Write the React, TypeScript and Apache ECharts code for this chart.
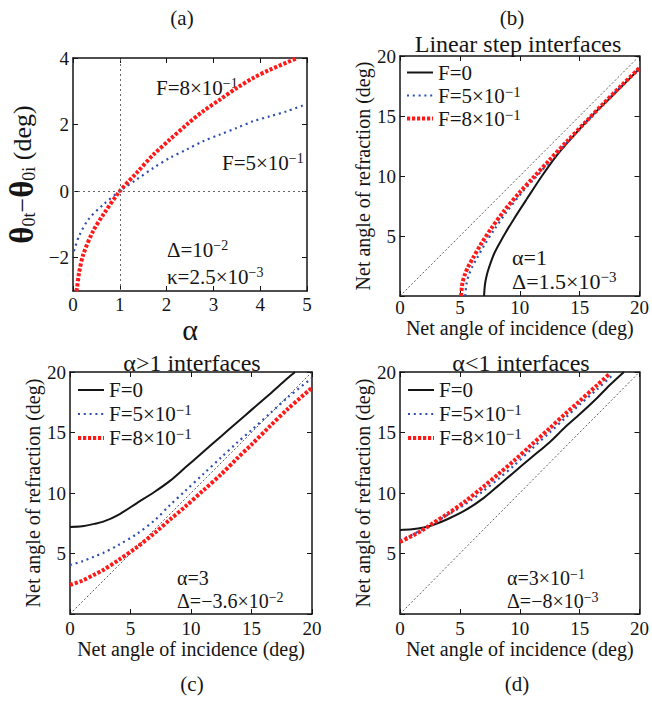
import { useEffect, useRef } from 'react';
import * as echarts from 'echarts';

const FONT = "'Liberation Serif', 'Times New Roman', serif";
const INK = '#151515';
const BLUE = '#2f4fb0';
const RED = '#ff1a1a';

const NAME_F0 = 'F=0';
const NAME_F5 = 'F=5×10^−1';
const NAME_F8 = 'F=8×10^−1';

// (a) shift of the refracted beam versus alpha
const alphaF5 = [0.02, 0.13, 0.33, 0.65, 1.0, 1.36, 1.72, 2.07, 2.43, 2.78, 3.14, 3.5, 3.85, 4.21, 4.57, 4.96];
const shiftF5 = [-1.8, -1.35, -0.85, -0.4, 0, 0.35, 0.7, 1.0, 1.25, 1.5, 1.7, 1.9, 2.1, 2.25, 2.4, 2.6];
const alphaF8 = [0.06, 0.08, 0.13, 0.22, 0.43, 0.65, 1.0, 1.36, 1.72, 2.07, 2.43, 2.78, 3.14, 3.5, 3.85, 4.21, 4.8];
const shiftF8 = [-3.0, -2.95, -2.45, -1.9, -1.2, -0.7, 0, 0.55, 1.1, 1.55, 2.0, 2.4, 2.75, 3.1, 3.4, 3.65, 4.0];

// (b) linear step interfaces
const incB0 = [7.02, 7.1, 7.25, 7.44, 7.85, 8.4, 8.8, 9.5, 10.6, 11.85, 13, 14.5, 16, 17.5, 19, 20];
const refB0 = [0, 1.0, 1.75, 2.4, 3.5, 4.55, 5.25, 6.4, 8.1, 10.0, 11.6, 13.35, 15.0, 16.45, 17.95, 18.95];
const incB5 = [5.45, 5.55, 5.75, 6.05, 6.4, 7.05, 7.85, 8.9, 10.2, 11.3, 12.6, 14, 15.5, 17, 18.5, 20];
const refB5 = [0, 1.0, 1.75, 2.45, 3.1, 4.25, 5.5, 7.0, 8.65, 9.85, 11.3, 12.85, 14.45, 16.0, 17.5, 18.95];
const incB8 = [5.1, 5.2, 5.4, 5.7, 6.06, 6.75, 7.6, 8.7, 10.05, 11.16, 12.5, 14, 15.5, 17, 18.5, 20];
const refB8 = [0, 1.0, 1.75, 2.45, 3.1, 4.3, 5.6, 7.1, 8.7, 9.9, 11.35, 12.95, 14.5, 16.05, 17.55, 19.0];

// (c) alpha > 1 interfaces
const incC = [0, 1, 2, 2.75, 4, 5.5, 7, 8.26, 9.5, 11, 12.5, 13.8, 15, 16.5, 18, 20];
const refC0 = [7.2, 7.25, 7.45, 7.63, 8.2, 9.15, 10.1, 11.0, 12.08, 13.39, 14.7, 15.83, 16.87, 18.17, 19.5, null];
const refC5 = [4.05, 4.35, 4.75, 5.05, 5.7, 6.6, 7.75, 9.0, 10.15, 11.55, 12.95, 14.15, 15.2, 16.55, 17.9, 19.5];
const refC8 = [2.4, 2.75, 3.25, 3.64, 4.45, 5.5, 6.7, 7.8, 8.85, 10.2, 11.55, 12.85, 14.0, 15.5, 16.95, 18.7];
const incC0End = 18.6;

// (d) alpha < 1 interfaces
const incD = [0, 1, 2, 2.75, 4, 5.5, 7, 8.26, 9.5, 11, 12.5, 13.8, 15, 16.5];
const refD0 = [6.95, 7.0, 7.15, 7.35, 7.85, 8.6, 9.6, 10.65, 11.7, 12.95, 14.2, 15.45, 16.5, 17.9];
const refD5 = [6.1, 6.55, 7.05, 7.5, 8.2, 9.1, 10.2, 11.2, 12.25, 13.65, 15.0, 16.2, 17.3, 18.6];
const refD8 = [5.95, 6.45, 7.0, 7.5, 8.3, 9.35, 10.55, 11.6, 12.65, 14.0, 15.35, 16.55, 17.6, 18.95];
const tailD0 = [[17.5, 18.9], [18.7, 20.0]];
const tailD5 = [[17.7, 19.7]];
const tailD8 = [[17.5, 19.85]];

const diagonal = [[0, 0], [20, 20]];
const refTicksA = [-2, 0, 2, 4];

const pairs = (xs: number[], ys: (number | null)[]) =>
  xs.map((x, i) => [x, ys[i]]).filter((p) => p[1] !== null);

const sup = (size: number, lh = 10) => ({ fontSize: size, verticalAlign: 'top', lineHeight: lh, fontFamily: FONT, color: INK });
const SUB = { fontSize: 18, verticalAlign: 'bottom', lineHeight: 12, fontFamily: FONT, color: INK };

const AXIS = { color: INK, width: 1.5 };
const TICK = { color: INK, width: 1 };
const tickLabel = { fontSize: 19, fontFamily: FONT, color: INK };
const axisName = { fontSize: 20, fontFamily: FONT, color: INK };

const supText = (s: string) => s.replace(/\^(.*)$/, '{sup|$1}');
const minus = (v: number) => (v < 0 ? '−' + String(-v) : String(v));

function xPair(gridIndex: number, min: number, max: number, interval: number, name: string, nameGap: number, nameTextStyle: any, margin: number) {
  return [
    {
      type: 'value', gridIndex, position: 'bottom', min, max, interval,
      name, nameLocation: 'middle', nameGap, nameTextStyle,
      axisLine: { show: true, onZero: false, lineStyle: AXIS },
      axisTick: { show: true, inside: true, length: 5, lineStyle: TICK },
      axisLabel: { ...tickLabel, margin, formatter: minus },
      splitLine: { show: false },
    },
    {
      type: 'value', gridIndex, position: 'top', min, max, interval,
      axisLine: { show: true, onZero: false, lineStyle: AXIS },
      axisTick: { show: true, inside: true, length: 5, lineStyle: TICK },
      axisLabel: { show: false },
      splitLine: { show: false },
    },
  ];
}

function yPair(gridIndex: number, min: number, max: number, interval: number, name: string, nameGap: number, nameTextStyle: any, custom?: number[]) {
  const label: any = { ...tickLabel, margin: 4, formatter: (v: number) => (custom ? minus(v) : v === 0 ? '' : String(v)) };
  const tick: any = { show: true, inside: true, length: 5, lineStyle: TICK };
  if (custom) {
    label.customValues = custom;
    tick.customValues = custom;
  }
  return [
    {
      type: 'value', gridIndex, position: 'left', min, max, interval,
      name, nameLocation: 'middle', nameGap, nameTextStyle,
      axisLine: { show: true, onZero: false, lineStyle: AXIS },
      axisTick: tick,
      axisLabel: label,
      splitLine: { show: false },
    },
    {
      type: 'value', gridIndex, position: 'right', min, max, interval,
      axisLine: { show: true, onZero: false, lineStyle: AXIS },
      axisTick: { ...tick },
      axisLabel: { show: false },
      splitLine: { show: false },
    },
  ];
}

const styleF0 = { color: INK, width: 2, type: 'solid' };
const styleF5 = { color: BLUE, width: 2.2, type: [2, 3.8] };
const styleF8 = { color: RED, width: 4, type: [3.2, 1.8] };

function curve(name: string, axis: number, data: any[], lineStyle: any, extra: any = {}) {
  return {
    type: 'line', name, xAxisIndex: axis, yAxisIndex: axis, data,
    showSymbol: false, symbol: 'none', smooth: 0.3,
    lineStyle, itemStyle: { color: lineStyle.color }, clip: true, silent: true,
    ...extra,
  };
}

function diag(axis: number) {
  return {
    type: 'line', name: 'y=x', xAxisIndex: axis, yAxisIndex: axis, data: diagonal,
    symbol: 'none', silent: true, lineStyle: { color: '#333', width: 0.8, type: [2, 2] },
  };
}

function legendAt(left: number, top: number, rowHeight: number) {
  const hidden = { opacity: 0 };
  return {
    left, top, orient: 'vertical', padding: 0, itemGap: 0, itemWidth: 26, itemHeight: 14,
    selectedMode: false,
    data: [
      { name: NAME_F0, lineStyle: styleF0, itemStyle: hidden },
      { name: NAME_F5, lineStyle: styleF5, itemStyle: hidden },
      { name: NAME_F8, lineStyle: styleF8, itemStyle: hidden },
    ],
    formatter: supText,
    textStyle: { fontSize: 21, fontFamily: FONT, color: INK, lineHeight: rowHeight, rich: { sup: sup(15) } },
  };
}

// plain text placed on the page (panel tags and titles)
function label(text: string, x: number, y: number, size: number, align = 'left', vAlign = 'middle') {
  return {
    type: 'text', x, y, silent: true,
    style: { text, fontSize: size, fontFamily: FONT, fill: INK, align, verticalAlign: vAlign, lineHeight: size + 2 },
  };
}

// parameter annotations with a raised exponent
function note(text: string, x: number, y: number, size: number) {
  return {
    type: 'text', x, y, silent: true,
    style: {
      text, fontSize: size, fontFamily: FONT, fill: INK, align: 'left', verticalAlign: 'middle',
      lineHeight: size + 2, rich: { sup: sup(Math.round(size * 0.68), 8) },
    },
  };
}

export default function App() {
  const ref = useRef<HTMLDivElement>(null);

  useEffect(() => {
    if (!ref.current) return;
    const chart = echarts.init(ref.current, undefined, { renderer: 'svg' });

    const nameA = {
      fontSize: 26, fontFamily: FONT, color: INK, lineHeight: 32,
      rich: {
        th: { fontSize: 33, fontWeight: 'bold', fontFamily: FONT, color: INK, lineHeight: 32 },
        s: SUB,
      },
    };

    const option: any = {
      animation: false,
      backgroundColor: '#fff',
      grid: [
        { left: 73, top: 58, width: 234, height: 233 },
        { left: 400, top: 56, width: 242, height: 240 },
        { left: 70, top: 372, width: 242, height: 242 },
        { left: 400, top: 372, width: 242, height: 242 },
      ],
      xAxis: [
        ...xPair(0, 0, 5, 1, 'α', 6, { fontSize: 30, fontFamily: FONT, color: INK }, 4),
        ...xPair(1, 0, 20, 5, 'Net angle of incidence (deg)', 19, axisName, 2),
        ...xPair(2, 0, 20, 5, 'Net angle of incidence (deg)', 20, axisName, 5),
        ...xPair(3, 0, 20, 5, 'Net angle of incidence (deg)', 20, axisName, 5),
      ],
      yAxis: [
        ...yPair(0, -3, 4, 1, '{th|θ}{s|0t}−{th|θ}{s|0i} (deg)', 35, nameA, refTicksA),
        ...yPair(1, 0, 20, 5, 'Net angle of refraction (deg)', 25, axisName),
        ...yPair(2, 0, 20, 5, 'Net angle of refraction (deg)', 25, axisName),
        ...yPair(3, 0, 20, 5, 'Net angle of refraction (deg)', 25, axisName),
      ],
      legend: [legendAt(405, 61, 23), legendAt(76, 378, 24), legendAt(406, 378, 24)],
      series: [
        curve(NAME_F5, 0, pairs(alphaF5, shiftF5), styleF5, {
          markLine: {
            silent: true, symbol: 'none', label: { show: false },
            lineStyle: { color: '#666', width: 1, type: [2, 3] },
            data: [{ xAxis: 1 }, { yAxis: 0 }],
          },
        }),
        curve(NAME_F8, 0, pairs(alphaF8, shiftF8), styleF8),

        diag(2),
        curve(NAME_F0, 2, pairs(incB0, refB0), styleF0),
        curve(NAME_F5, 2, pairs(incB5, refB5), styleF5),
        curve(NAME_F8, 2, pairs(incB8, refB8), styleF8),

        diag(4),
        curve(NAME_F0, 4, [...pairs(incC, refC0), [incC0End, 20]], styleF0),
        curve(NAME_F5, 4, pairs(incC, refC5), styleF5),
        curve(NAME_F8, 4, pairs(incC, refC8), styleF8),

        diag(6),
        curve(NAME_F0, 6, [...pairs(incD, refD0), ...tailD0], styleF0),
        curve(NAME_F5, 6, [...pairs(incD, refD5), ...tailD5], styleF5),
        curve(NAME_F8, 6, [...pairs(incD, refD8), ...tailD8], styleF8),
      ],
      graphic: [
        label('(a)', 182, 6, 21, 'center', 'top'),
        label('(b)', 512, 6, 21, 'center', 'top'),
        label('(c)', 192, 672, 21, 'center', 'top'),
        label('(d)', 517, 672, 21, 'center', 'top'),
        label('Linear step interfaces', 518, 31, 24, 'center', 'top'),
        label('α>1 interfaces', 192, 350, 24, 'center', 'top'),
        label('α<1 interfaces', 521, 350, 24, 'center', 'top'),

        note('F=8×10{sup|−1}', 156, 88, 21),
        note('F=5×10{sup|−1}', 222, 163, 21),
        note('Δ=10{sup|−2}', 167, 250, 21),
        note('κ=2.5×10{sup|−3}', 167, 277, 21),

        note('α=1', 512, 257, 22),
        note('Δ=1.5×10{sup|−3}', 512, 281, 22),
        note('α=3', 177, 578, 20),
        note('Δ=−3.6×10{sup|−2}', 177, 601, 20),
        note('α=3×10{sup|−1}', 507, 578, 20),
        note('Δ=−8×10{sup|−3}', 507, 601, 20),
      ],
    };

    chart.setOption(option);
    return () => chart.dispose();
  }, []);

  return (
    <div
      ref={ref}
      style={{ position: 'fixed', left: 0, top: 0, width: 652, height: 703, background: '#fff' }}
    />
  );
}
